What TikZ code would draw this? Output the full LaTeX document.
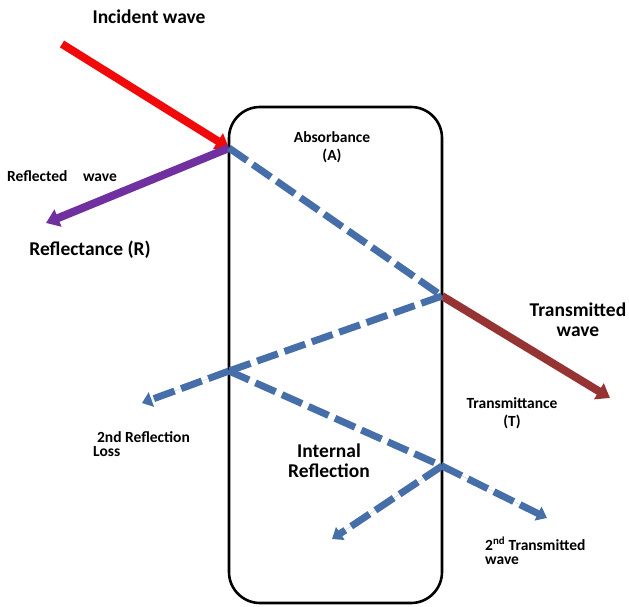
\documentclass[tikz,border=0pt]{standalone}
\usepackage{fontspec}
\setmainfont{Carlito}
\usetikzlibrary{arrows.meta}
\definecolor{incred}{RGB}{240,10,10}
\definecolor{reflpurple}{RGB}{112,48,160}
\definecolor{wavblue}{RGB}{70,110,168}
\definecolor{transbrown}{RGB}{150,52,52}
\tikzset{
  solidray/.style={line width=8pt, -{Triangle[length=13pt,width=18pt]}},
  bluedash/.style={draw=wavblue, line width=7pt, dash pattern=on 22pt off 7pt},
  bluedashtip/.style={bluedash, -{Triangle[length=10pt,width=15pt]}},
  lab/.style={font=\bfseries, align=center, inner sep=0pt},
  biglab/.style={lab, font=\bfseries\fontsize{19.5}{20}\selectfont},
  smalllab/.style={lab, font=\bfseries\fontsize{15.5}{18.5}\selectfont},
  tightlab/.style={lab, align=left, font=\bfseries\fontsize{15.5}{14}\selectfont},
}
\begin{document}
\begin{tikzpicture}[x=1pt,y=-1pt]
\useasboundingbox (0,0) rectangle (629,607);
% slab
\draw[line width=2.6pt, rounded corners=31pt] (229,107) rectangle (442,603);
% points
\coordinate (P1) at (229,148);
\coordinate (P2) at (442,296);
\coordinate (P3) at (229,371);
\coordinate (P4) at (442,466);
\coordinate (incs) at (62,44);
\coordinate (refe) at (46,223);
\coordinate (tre) at (610,398);
\coordinate (losse) at (142,403);
\coordinate (t2e) at (547,518);
\coordinate (r3e) at (332,539);
% solid rays
\draw[solidray, draw=incred, fill=incred] (incs) -- (P1);
\draw[solidray, draw=reflpurple, fill=reflpurple] (P1) -- (refe);
\draw[solidray, draw=transbrown, fill=transbrown] (P2) -- (tre);
% dashed rays
\draw[bluedash] (P1) -- (P2);
\draw[bluedash] (P2) -- (P3);
\draw[bluedashtip, fill=wavblue] (P3) -- (losse);
\draw[bluedash] (P3) -- (P4);
\draw[bluedashtip, fill=wavblue] (P4) -- (t2e);
\draw[bluedashtip, fill=wavblue] (P4) -- (r3e);
% labels
\node[biglab] (inc) at (149,17) {Incident wave};
\node[smalllab] (abs) at (332,147) {Absorbance\\(A)};
\node[smalllab] (rw) at (62,176) {Reflected\hspace{1.0em}wave};
\node[biglab] (rr) at (90,250) {Reflectance (R)};
\node[biglab] (tw) at (578,320) {Transmitted\\wave};
\node[smalllab] (tt) at (512,413) {Transmittance\\(T)};
\node[tightlab, anchor=north west] (loss) at (93,431) {\hspace{0.25em}2nd Reflection\\Loss};
\node[biglab] (ir) at (329,461) {Internal\\Reflection};
\node[tightlab, anchor=north west] (t2) at (485,537) {2\textsuperscript{nd} Transmitted\\wave};
\end{tikzpicture}
\end{document}
